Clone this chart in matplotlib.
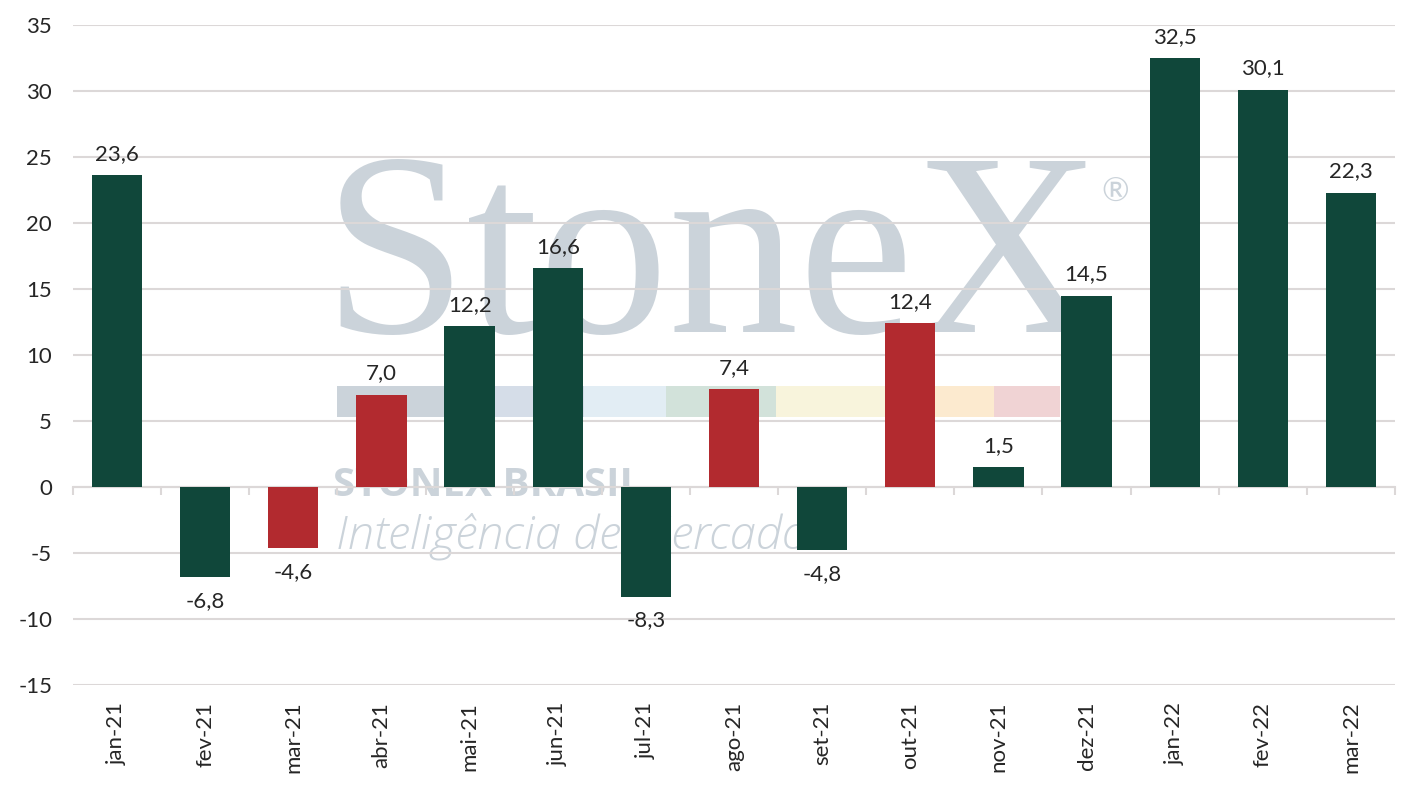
import numpy as np
import matplotlib
matplotlib.use("Agg")
import matplotlib.pyplot as plt
from matplotlib.patches import Rectangle

# Dados
meses = ["jan-21", "fev-21", "mar-21", "abr-21", "mai-21", "jun-21", "jul-21",
         "ago-21", "set-21", "out-21", "nov-21", "dez-21", "jan-22", "fev-22", "mar-22"]
valores = [23.6, -6.8, -4.6, 7.0, 12.2, 16.6, -8.3, 7.4, -4.8, 12.4, 1.5, 14.5, 32.5, 30.1, 22.3]
vermelhos = ["mar-21", "abr-21", "ago-21", "out-21"]

VERDE = "#10473a"
VERMELHO = "#b22a2f"
GRADE = "#dcd8d8"
TEXTO = "#262626"
MARCA = "#cbd3da"

plt.rcParams['font.family'] = ['Lato', 'DejaVu Sans']
plt.rcParams['axes.unicode_minus'] = False

fig = plt.figure(figsize=(14.17, 7.94), dpi=100)
ax = fig.add_axes([73 / 1417, 1 - 685 / 794, 1322 / 1417, 660 / 794])

# Marca d'agua (atras de tudo)
ax.text(0.189, 0.535, "StoneX", transform=ax.transAxes, fontsize=187,
        family="Liberation Serif", color=MARCA, ha="left", va="baseline", zorder=0)
ax.text(0.778, 0.745, "®", transform=ax.transAxes, fontsize=24,
        color=MARCA, ha="left", va="center", zorder=0)
faixa = [(337, 492, "#cbd3da"), (492, 584, "#d5dde8"), (584, 666, "#e2edf4"),
         (666, 776, "#d2e2da"), (776, 935, "#f8f4dc"), (935, 994, "#fceacf"),
         (994, 1060, "#f0d3d4")]
for x0, x1, c in faixa:
    ax.add_patch(Rectangle(((x0 - 73) / 1322, (685 - 417) / 660), (x1 - x0) / 1322, 31 / 660,
                           transform=ax.transAxes, color=c, lw=0, zorder=0))
ax.text(0.197, (685 - 496) / 660, "STONEX BRASIL", transform=ax.transAxes, fontsize=29,
        family="Open Sans", fontweight="bold", color=MARCA, ha="left", va="baseline", zorder=0)
ax.text(0.199, (685 - 548) / 660, "Inteligência de Mercado", transform=ax.transAxes, fontsize=34,
        family="Open Sans", fontstyle="italic", fontweight="light", color=MARCA,
        ha="left", va="baseline", zorder=0)

x = np.arange(len(meses))
cores = [VERMELHO if m in vermelhos else VERDE for m in meses]
barras = ax.bar(x, valores, width=0.57, color=cores, zorder=3)

for xi, v in zip(x, valores):
    rotulo = f"{v:.1f}".replace(".", ",")
    if v >= 0:
        ax.annotate(rotulo, (xi, v), xytext=(0, 8), textcoords="offset points",
                    ha="center", va="bottom", fontsize=16, color=TEXTO, zorder=4)
    else:
        ax.annotate(rotulo, (xi, v), xytext=(0, -10), textcoords="offset points",
                    ha="center", va="top", fontsize=16, color=TEXTO, zorder=4)

ax.set_xlim(-0.5, len(meses) - 0.5)
ax.set_ylim(-15, 35)
ax.set_yticks(np.arange(-15, 36, 5))
ax.tick_params(axis="y", length=0, labelsize=16, labelcolor=TEXTO, pad=15)
ax.yaxis.grid(True, color=GRADE, lw=1.5, zorder=1)
ax.set_axisbelow(True)

for lado in ["top", "right", "left"]:
    ax.spines[lado].set_visible(False)
ax.spines["bottom"].set_position(("data", 0))
ax.spines["bottom"].set_color(GRADE)
ax.spines["bottom"].set_linewidth(1.5)
ax.spines["bottom"].set_zorder(2)
ax.set_xticks(np.arange(-0.5, len(meses), 1.0))
ax.tick_params(axis="x", length=6, width=1.5, color=GRADE, labelbottom=False)

sec = ax.secondary_xaxis("bottom")
sec.set_xticks(x, meses)
sec.tick_params(length=0, labelsize=16, labelcolor=TEXTO, pad=12, labelrotation=90)
sec.spines["bottom"].set_visible(False)

fig.savefig("out.png", dpi=100, facecolor="white")
